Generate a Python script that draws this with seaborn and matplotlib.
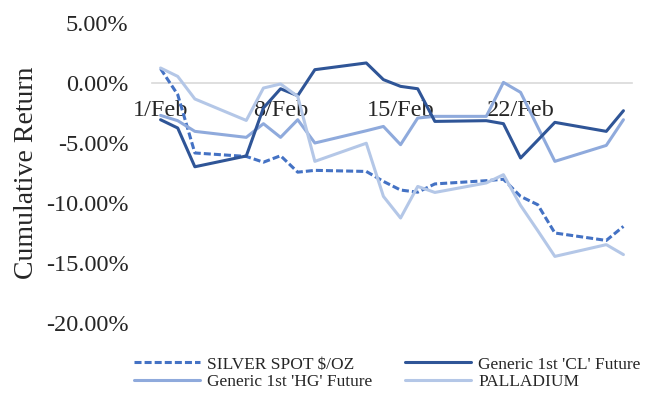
import matplotlib
matplotlib.use("Agg")
import matplotlib.pyplot as plt
import seaborn as sns
import pandas as pd
from matplotlib.ticker import PercentFormatter

# trading days in February (day of month)
days = [1, 2, 3, 6, 7, 8, 9, 10, 13, 14, 15, 16, 17, 20, 21, 22, 23, 24, 27, 28]
tick_days = [1, 8, 15, 22]
tick_labels = ["1/Feb", "8/Feb", "15/Feb", "22/Feb"]

# cumulative returns in %
silver = [1.19, -0.97, -5.83, -6.12, -6.6, -6.06, -7.43, -7.28, -7.37, -8.2,
          -8.92, -9.1, -8.41, -8.14, -8.02, -9.45, -10.14, -12.5, -13.12, -11.95]
cl = [-3.06, -3.75, -6.98, -6.08, -2.08, -0.48, -1.06, 1.11, 1.67, 0.28,
      -0.28, -0.48, -3.2, -3.14, -3.39, -6.25, -4.77, -3.28, -4.03, -2.31]
hg = [-2.7, -3.14, -4.03, -4.53, -3.39, -4.53, -3.06, -5.0, -3.98, -3.62,
      -5.14, -2.92, -2.78, -2.78, 0.05, -0.78, -3.66, -6.53, -5.2, -3.06]
palladium = [1.25, 0.55, -1.33, -3.12, -0.42, -0.08, -1.12, -6.53, -5.02, -9.45,
             -11.25, -8.62, -9.12, -8.33, -7.64, -10.2, -12.3, -14.45, -13.47, -14.3]

# legend order (column-major) -> rows: silver/CL, HG/palladium
names = ["SILVER SPOT $/OZ", "Generic 1st 'HG' Future",
         "Generic 1st 'CL' Future", "PALLADIUM"]
series = [silver, hg, cl, palladium]
colors = ["#4472C4", "#8FAADC", "#2F5597", "#B4C7E7"]

sns.set_style("white")
plt.rcParams['font.family'] = ['Liberation Serif', 'DejaVu Serif']
plt.rcParams['axes.unicode_minus'] = False

fig, ax = plt.subplots(figsize=(6.52, 3.94), dpi=100)
fig.subplots_adjust(left=152/652, right=632/652, top=1-23/394, bottom=1-323/394)

for name, vals, col in zip(names, series, colors):
    df = pd.DataFrame({"day": days, "ret": [v / 100 for v in vals]})
    sns.lineplot(data=df, x="day", y="ret", ax=ax, color=col,
                 linewidth=2.2, label=name)
    if name.startswith("SILVER"):
        ax.lines[-1].set_dashes((2.3, 1.0))

ax.set_xlim(0.5, 28.5)
ax.set_ylim(-0.20, 0.05)
ax.set_yticks([0.05, 0, -0.05, -0.10, -0.15, -0.20])
ax.yaxis.set_major_formatter(PercentFormatter(1.0, decimals=2))
ax.set_xticks(tick_days)
ax.set_xticklabels(tick_labels)
ax.set_xlabel("")
ax.set_ylabel("Cumulative Return", fontsize=20, color="#262626", labelpad=5)

for s in ["top", "right", "left"]:
    ax.spines[s].set_visible(False)
ax.spines["bottom"].set_position(("data", 0))
ax.spines["bottom"].set_color("#D9D9D9")
ax.spines["bottom"].set_linewidth(1.2)
ax.spines["bottom"].set_zorder(0)
ax.tick_params(axis="x", length=0, pad=12, labelsize=17.5, labelcolor="#262626")
ax.tick_params(axis="y", length=0, pad=17, labelsize=17.5, labelcolor="#262626")

ax.legend(ncol=2, loc="center left", bbox_to_anchor=(134/652, 1-373/394),
          bbox_transform=fig.transFigure, borderaxespad=0, borderpad=0,
          frameon=False, fontsize=12.5, handlelength=3.8, columnspacing=1.9,
          labelspacing=0.05, handletextpad=0.4)

fig.savefig("out.png", dpi=100)
